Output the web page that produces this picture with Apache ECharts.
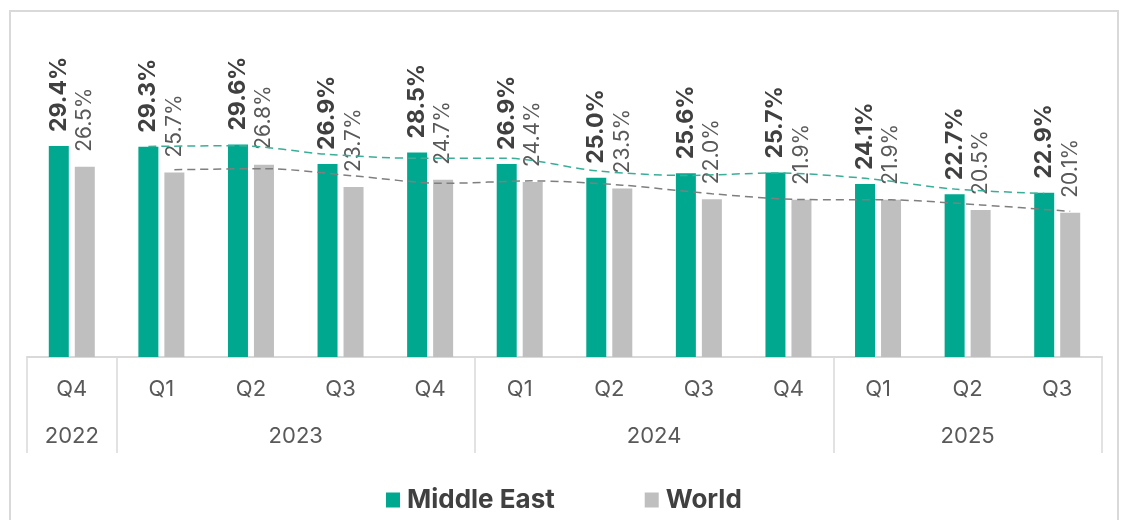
<!DOCTYPE html>
<html>
<head>
<meta charset="utf-8">
<script src="https://cdn.jsdelivr.net/npm/echarts@6/dist/echarts.min.js"></script>
<style>html,body{margin:0;padding:0;background:#fff;}#c{width:1122px;height:520px;}</style>
</head>
<body>
<div id="c"></div>
<script>
// ---- data ----
const quarters = ['Q4','Q1','Q2','Q3','Q4','Q1','Q2','Q3','Q4','Q1','Q2','Q3'];
const years = ['2022','2023','2024','2025'];
const quartersPerYear = [1, 4, 4, 3];
const middleEast = [29.4,29.3,29.6,26.9,28.5,26.9,25.0,25.6,25.7,24.1,22.7,22.9];
const world = [26.5,25.7,26.8,23.7,24.7,24.4,23.5,22.0,21.9,21.9,20.5,20.1];
// dashed trend lines, first quarter has none
const middleEastTrend = [null,29.35,29.45,28.25,27.7,27.7,25.95,25.3,25.65,24.9,23.4,22.8];
const worldTrend = [null,26.1,26.25,25.25,24.2,24.55,23.95,22.75,21.95,21.9,21.2,20.3];

// ---- layout helpers ----
const FONT = 'Inter';
const boundaries = [0];
const yearCenters = [];
const yearByCenter = {};
quartersPerYear.forEach((n, i) => {
  const start = boundaries[boundaries.length - 1];
  const c = start + n / 2;
  yearCenters.push(c);
  yearByCenter[c] = years[i];
  boundaries.push(start + n);
});
const shift = 0.145; // offset of each bar from the category centre, in categories
const trendData = (arr, dir) => arr.map((v, i) => v == null ? null : [i + 0.5 + dir * shift, v]).filter(d => d);

const chart = echarts.init(document.getElementById('c'), null, {renderer: 'canvas'});
chart.setOption({
  animation: false,
  backgroundColor: '#ffffff',
  graphic: [{
    type: 'rect', silent: true, z: -10,
    shape: {x: 10, y: 11, width: 1108, height: 530},
    style: {fill: 'none', stroke: '#d9d9d9', lineWidth: 2}
  }],
  grid: {left: 27, right: 20, top: 70, bottom: 163},
  legend: {
    left: 381, top: 482, icon: 'rect', itemWidth: 14, itemHeight: 15, itemGap: 90,
    data: ['Middle East', 'World'],
    textStyle: {fontFamily: FONT, fontSize: 26, fontWeight: 'bold', color: '#404040', padding: [0, 0, 0, 2]}
  },
  xAxis: [{
    type: 'category', data: quarters, position: 'bottom',
    axisLine: {lineStyle: {color: '#d9d9d9', width: 2}},
    axisTick: {show: false},
    axisLabel: {fontFamily: FONT, fontSize: 22, color: '#595959', margin: 21}
  }, {
    type: 'value', min: 0, max: 12, position: 'bottom',
    axisLine: {show: false}, splitLine: {show: false},
    axisTick: {show: true, customValues: boundaries, length: 96, lineStyle: {color: '#d9d9d9', width: 1.5}},
    axisLabel: {customValues: yearCenters, formatter: v => yearByCenter[v] || '', fontFamily: FONT, fontSize: 22, color: '#595959', margin: 68}
  }],
  yAxis: {type: 'value', min: 0, max: 40, show: false, splitLine: {show: false}},
  series: [{
    name: 'Middle East', type: 'bar', data: middleEast, barWidth: 20, barGap: '30%',
    itemStyle: {color: '#00a88f'},
    label: {show: true, position: 'top', rotate: 90, align: 'left', verticalAlign: 'middle', distance: 14,
      formatter: p => p.value.toFixed(1) + '%', fontFamily: FONT, fontSize: 23, fontWeight: 'bold', color: '#404040'}
  }, {
    name: 'World', type: 'bar', data: world, barWidth: 20,
    itemStyle: {color: '#bfbfbf'},
    label: {show: true, position: 'top', rotate: 90, align: 'left', verticalAlign: 'middle', distance: 15,
      formatter: p => p.value.toFixed(1) + '%', fontFamily: FONT, fontSize: 21, color: '#595959'}
  }, {
    name: 'ME trend', type: 'line', xAxisIndex: 1, data: trendData(middleEastTrend, -1),
    smooth: 0.3, symbol: 'none', z: 5,
    lineStyle: {color: '#3aae97', width: 1.5, type: [8, 5]}
  }, {
    name: 'World trend', type: 'line', xAxisIndex: 1, data: trendData(worldTrend, 1),
    smooth: 0.3, symbol: 'none', z: 5,
    lineStyle: {color: '#7f7f7f', width: 1.5, type: [8, 5]}
  }]
});
</script>
</body>
</html>
